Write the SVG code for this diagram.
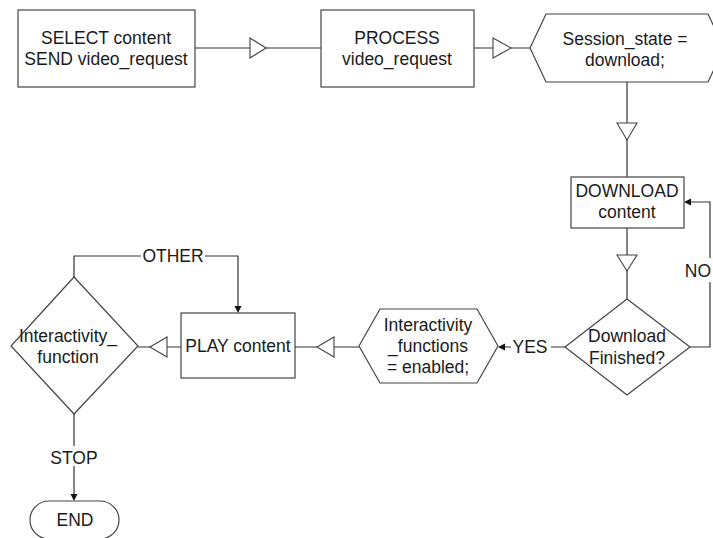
<svg xmlns="http://www.w3.org/2000/svg" width="713" height="538" viewBox="0 0 713 538">
<defs>
<style>
.shape{fill:#fff;stroke:#444;stroke-width:1.2}
.ln{fill:none;stroke:#333;stroke-width:1.2}
.tri{fill:#fff;stroke:#444;stroke-width:1.1}
.ah{fill:#111;stroke:none}
text{font-family:"Liberation Sans",Arial,sans-serif;font-size:17.5px;fill:#1a1a1a;text-anchor:middle}
.lbl{fill:#fff;stroke:none}
</style>
</defs>
<rect width="713" height="538" fill="#fff"/>
<g id="connectors">
<line class="ln" x1="195" y1="48" x2="321" y2="48"/>
<polygon class="tri" points="250,38 266,48 250,58"/>
<line class="ln" x1="474" y1="48" x2="530" y2="48"/>
<polygon class="tri" points="493,38 511,48 493,58"/>
<line class="ln" x1="627" y1="82" x2="627" y2="177"/>
<polygon class="tri" points="617,123 637,123 627,140"/>
<line class="ln" x1="627" y1="228" x2="627" y2="299"/>
<polygon class="tri" points="617,255 637,255 627,271"/>
<polyline class="ln" points="690,347 710,347 710,202 688,202"/>
<polygon class="ah" points="684,202 691,198.5 691,205.5"/>
<rect class="lbl" x="688" y="258" width="25" height="24"/>
<text x="711" y="277" style="text-anchor:end">NO</text>
<line class="ln" x1="565" y1="347" x2="502" y2="347"/>
<polygon class="ah" points="498,347 505,343.5 505,350.5"/>
<rect class="lbl" x="511" y="336" width="40" height="22"/>
<text x="530" y="353">YES</text>
<line class="ln" x1="359" y1="347" x2="295" y2="347"/>
<polygon class="tri" points="317,347 334,337 334,357"/>
<line class="ln" x1="181" y1="347" x2="138" y2="347"/>
<polygon class="tri" points="150,347 167,337 167,357"/>
<polyline class="ln" points="74,277 74,256 238,256 238,309"/>
<polygon class="ah" points="238,313 234.5,306 241.5,306"/>
<rect class="lbl" x="141" y="246" width="64" height="20"/>
<text x="173" y="262">OTHER</text>
<line class="ln" x1="74" y1="414" x2="74" y2="497"/>
<polygon class="ah" points="74,501 70.5,494 77.5,494"/>
<rect class="lbl" x="48" y="446" width="52" height="20"/>
<text x="74" y="464">STOP</text>
</g>
<g id="select">
<rect class="shape" x="18" y="10" width="177" height="77"/>
<text x="106" y="44">SELECT content</text>
<text x="106" y="65">SEND video_request</text>
</g>
<g id="process">
<rect class="shape" x="321" y="10" width="153" height="77"/>
<text x="397" y="44">PROCESS</text>
<text x="397" y="65">video_request</text>
</g>
<g id="session">
<polygon class="shape" points="530,48 546,14 708,14 724,48 708,82 546,82"/>
<text x="625" y="45">Session_state =</text>
<text x="625" y="66">download;</text>
</g>
<g id="download">
<rect class="shape" x="571" y="177" width="113" height="51"/>
<text x="627" y="197">DOWNLOAD</text>
<text x="627" y="218">content</text>
</g>
<g id="finished">
<polygon class="shape" points="627,299 690,347 627,395 565,347"/>
<text x="627" y="342">Download</text>
<text x="627" y="364">Finished?</text>
</g>
<g id="enabled">
<polygon class="shape" points="359,346 380,309 477,309 498,346 477,383 380,383"/>
<text x="428" y="331">Interactivity</text>
<text x="428" y="352">_functions</text>
<text x="428" y="373">= enabled;</text>
</g>
<g id="play">
<rect class="shape" x="181" y="313" width="114" height="65"/>
<text x="238" y="352">PLAY content</text>
</g>
<g id="interactivity">
<polygon class="shape" points="74,277 138,346 74,414 11,346"/>
<text x="68" y="342">Interactivity_</text>
<text x="68" y="363">function</text>
</g>
<g id="end">
<rect class="shape" x="30" y="501" width="89" height="38" rx="19" ry="19"/>
<text x="75" y="526">END</text>
</g>
</svg>
